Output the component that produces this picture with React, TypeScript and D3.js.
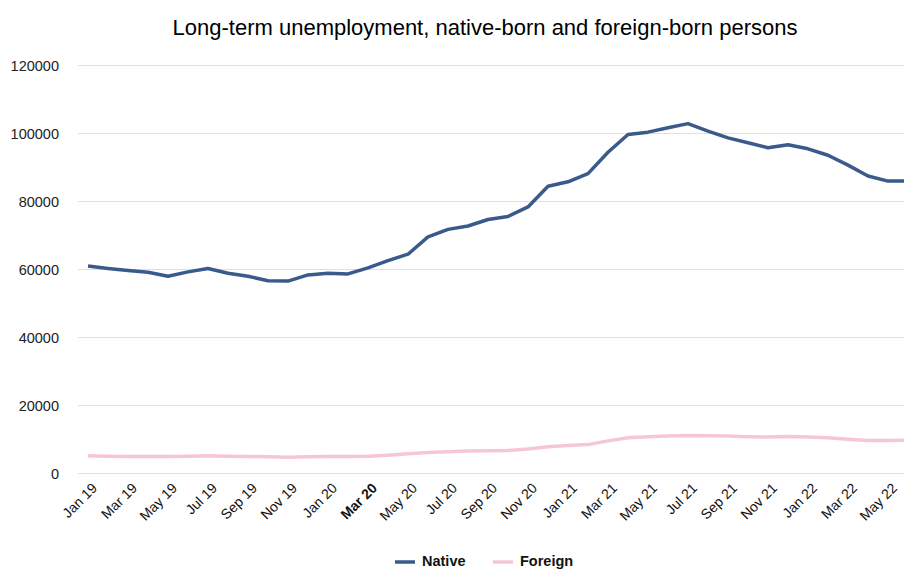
import React, { useEffect, useRef } from "react";
import * as d3 from "d3";

const months = [
  "Jan 19","Feb 19","Mar 19","Apr 19","May 19","Jun 19","Jul 19","Aug 19","Sep 19","Oct 19","Nov 19","Dec 19",
  "Jan 20","Feb 20","Mar 20","Apr 20","May 20","Jun 20","Jul 20","Aug 20","Sep 20","Oct 20","Nov 20","Dec 20",
  "Jan 21","Feb 21","Mar 21","Apr 21","May 21","Jun 21","Jul 21","Aug 21","Sep 21","Oct 21","Nov 21","Dec 21",
  "Jan 22","Feb 22","Mar 22","Apr 22","May 22","Jun 22",
];

const native = [
  61000, 60300, 59700, 59200, 58000, 59300, 60300, 58900, 58000, 56700, 56600, 58400,
  58900, 58700, 60500, 62600, 64500, 69600, 71800, 72800, 74700, 75600, 78400, 84500,
  85800, 88200, 94500, 99700, 100400, 101700, 102900, 100700, 98700, 97300, 95800, 96700,
  95500, 93600, 90700, 87500, 86000, 86000,
];

const foreign = [
  5200, 5100, 5000, 5000, 5000, 5100, 5200, 5100, 5000, 4900, 4800, 4900,
  5000, 5000, 5100, 5400, 5800, 6200, 6400, 6600, 6700, 6800, 7200, 7900,
  8200, 8500, 9600, 10500, 10800, 11000, 11200, 11100, 11000, 10800, 10700, 10900,
  10700, 10500, 10100, 9700, 9700, 9800,
];

const yTicks = [0, 20000, 40000, 60000, 80000, 100000, 120000];
const boldLabel = "Mar 20";

const W = 904;
const H = 569;
const FONT = "Liberation Sans, Arial, sans-serif";

export default function App() {
  const ref = useRef<SVGSVGElement>(null);

  useEffect(() => {
    const svg = d3.select(ref.current);
    svg.selectAll("*").remove();

    const x = d3.scaleBand<string>().domain(months).range([78, 918]);
    const y = d3.scaleLinear().domain([0, 120000]).range([473.5, 65.5]);
    const cx = (m: string) => (x(m) as number) + x.bandwidth() / 2;

    // title
    svg.append("text")
      .attr("x", 485).attr("y", 35)
      .attr("text-anchor", "middle")
      .attr("font-family", FONT)
      .attr("font-size", 22)
      .attr("fill", "#000")
      .text("Long-term unemployment, native-born and foreign-born persons");

    // grid
    svg.append("g").selectAll("line").data(yTicks).join("line")
      .attr("x1", 78).attr("x2", W)
      .attr("y1", d => y(d)).attr("y2", d => y(d))
      .attr("stroke", "#e0e0e0").attr("stroke-width", 1);

    // y labels
    svg.append("g").selectAll("text").data(yTicks).join("text")
      .attr("x", 59).attr("y", d => y(d))
      .attr("dy", "0.35em")
      .attr("text-anchor", "end")
      .attr("font-family", FONT)
      .attr("font-size", 14.5)
      .attr("fill", "#222")
      .text(d => String(d));

    // x labels
    const labelMonths = months.filter((_, i) => i % 2 === 0);
    svg.append("g").selectAll("text").data(labelMonths).join("text")
      .attr("transform", d => `translate(${cx(d) + 3},${482}) rotate(-45)`)
      .attr("text-anchor", "end")
      .attr("dy", "0.7em")
      .attr("font-family", FONT)
      .attr("font-size", 14)
      .attr("font-weight", d => (d === boldLabel ? "bold" : "normal"))
      .attr("fill", "#111")
      .text(d => d);

    const line = d3.line<number>()
      .x((_, i) => cx(months[i]))
      .y(d => y(d))
      .curve(d3.curveLinear);

    svg.append("path").datum(foreign)
      .attr("d", line)
      .attr("fill", "none")
      .attr("stroke", "#f7c5d8")
      .attr("stroke-width", 3.5)
      .attr("stroke-linejoin", "round");

    svg.append("path").datum(native)
      .attr("d", line)
      .attr("fill", "none")
      .attr("stroke", "#395a8b")
      .attr("stroke-width", 3.5)
      .attr("stroke-linejoin", "round");

    // legend
    const legend = [
      { name: "Native", color: "#395a8b", x: 395 },
      { name: "Foreign", color: "#f7c5d8", x: 493 },
    ];
    const lg = svg.append("g");
    legend.forEach(l => {
      lg.append("line")
        .attr("x1", l.x).attr("x2", l.x + 20)
        .attr("y1", 562).attr("y2", 562)
        .attr("stroke", l.color).attr("stroke-width", 3.5);
      lg.append("text")
        .attr("x", l.x + 27).attr("y", 566)
        .attr("font-family", FONT)
        .attr("font-size", 14.5)
        .attr("font-weight", "bold")
        .attr("fill", "#111")
        .text(l.name);
    });
  }, []);

  return (
    <div style={{ position: "absolute", left: 0, top: 0, width: W, height: H, overflow: "hidden" }}>
      <svg ref={ref} width={W} height={H} style={{ display: "block", background: "#fff" }} />
    </div>
  );
}
